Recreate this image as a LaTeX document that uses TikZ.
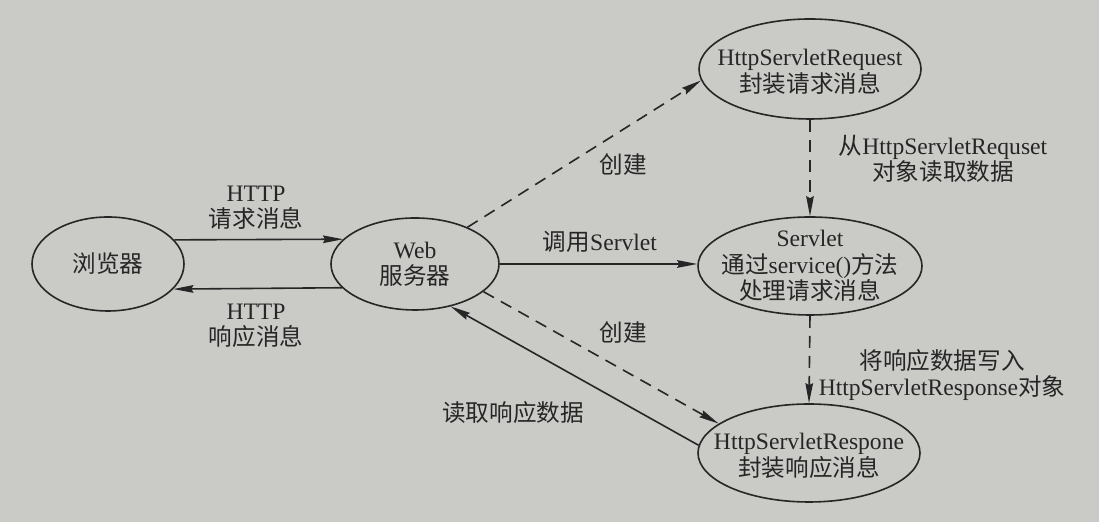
\documentclass[tikz,border=0pt]{standalone}
\usepackage{fontspec}
\setmainfont{Liberation Serif}
\newfontfamily\cjk{Noto Sans CJK SC}
\usetikzlibrary{shapes.geometric,arrows.meta}
\newcommand\zh[1]{{\cjk #1}}
\definecolor{paper}{HTML}{CACBC7}
\definecolor{inkc}{HTML}{262626}

\begin{document}
\begin{tikzpicture}[x=0.5pt,y=-0.5pt,
  ink/.style={draw=inkc, line width=0.8pt},
  oval/.style={ellipse, ink, inner sep=0pt},
  lbl/.style={align=center, text=inkc, inner sep=0pt,
    font=\fontsize{11.8}{13.2}\selectfont},
  flow/.style={ink, -{Stealth[length=10pt,width=3.8pt,inset=1pt]}},
  dflow/.style={flow, dash pattern=on 6pt off 4pt}]

  % page
  \fill[paper] (0,0) rectangle (1099,522);
  \useasboundingbox (0,0) rectangle (1099,522);

  % ellipses
  \node[oval, minimum width=76pt,  minimum height=47pt] (browser) at (108,264) {};
  \node[oval, minimum width=84pt,  minimum height=46pt] (web)     at (415,264) {};
  \node[oval, minimum width=111pt, minimum height=50pt] (req)     at (810,69)  {};
  \node[oval, minimum width=112pt, minimum height=49pt] (servlet) at (810,266) {};
  \node[oval, minimum width=111pt, minimum height=49pt] (resp)    at (809,453) {};

  % texts inside the ellipses
  \node[lbl] (browsertxt) at (browser) {\zh{浏览器}};
  \node[lbl] (webtxt)     at (web)     {Web\\\zh{服务器}};
  \node[lbl] (reqtxt)     at ([yshift=-1.5pt]req.center) {HttpServletRequest\\\zh{封装请求消息}};
  \node[lbl] (servlettxt) at (servlet) {Servlet\\\zh{通过}service()\zh{方法}\\\zh{处理请求消息}};
  \node[lbl] (resptxt)    at ([yshift=-1.5pt]resp.center) {HttpServletRespone\\\zh{封装响应消息}};

  % connectors
  \draw[flow]  (browser.20.2)  -- (web.161.5);
  \draw[flow]  (web.198.5)     -- (browser.339.8);
  \draw[flow]  (web.east)      -- (web.east -| servlet.west);
  \draw[dflow] (web.35)        -- (req.186);
  \draw[dflow] (req.south)     -- (servlet.north);
  \draw[dflow] (servlet.south) -- (resp.north);
  \draw[dflow] (web.-22.7)     -- (resp.162);
  \draw[flow]  (resp.176)      -- (web.310.7);

  % connector labels
  \node[lbl] (reqmsg)   at (256,208) {HTTP\\\zh{请求消息}};
  \node[lbl] (respmsg)  at (256,326) {HTTP\\\zh{响应消息}};
  \node[lbl] (call)     at (600,242) {\zh{调用}Servlet};
  \node[lbl] (create1)  at (623,165) {\zh{创建}};
  \node[lbl] (create2)  at (623,333) {\zh{创建}};
  \node[lbl] (readreq)  at (943,159) {\zh{从}HttpServletRequset\\\zh{对象读取数据}};
  \node[lbl] (write)    at (942,375) {\zh{将响应数据写入}\\HttpServletResponse\zh{对象}};
  \node[lbl] (readresp) at (513,413) {\zh{读取响应数据}};
\end{tikzpicture}
\end{document}
